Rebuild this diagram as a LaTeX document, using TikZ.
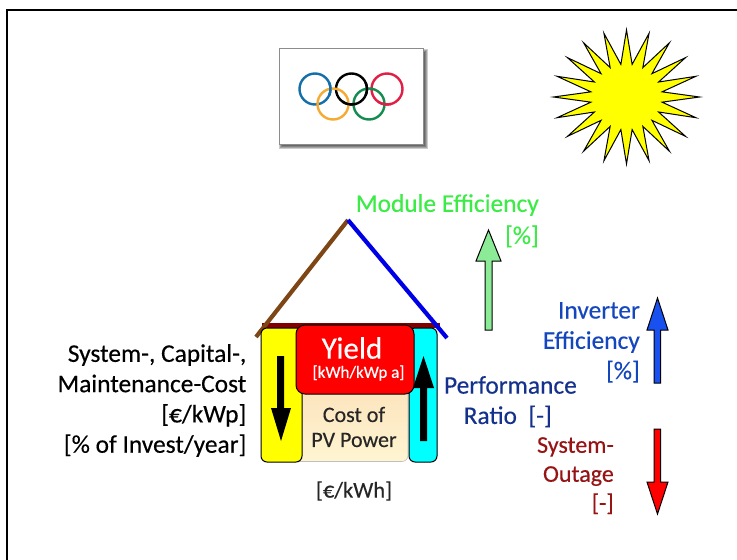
\documentclass[tikz,border=0pt]{standalone}
\usepackage{fontspec}
\setmainfont[FakeBold=0.35]{Carlito}
\definecolor{ringblue}{RGB}{20,110,170}
\definecolor{ringred}{RGB}{225,30,70}
\definecolor{ringgold}{RGB}{245,170,50}
\definecolor{ringgreen}{RGB}{20,140,80}
\definecolor{modgreen}{RGB}{60,235,70}
\definecolor{modfill}{RGB}{140,235,150}
\definecolor{invblue}{RGB}{20,70,190}
\definecolor{arrblue}{RGB}{25,80,240}
\definecolor{perfblue}{RGB}{20,50,140}
\definecolor{outred}{RGB}{150,20,20}
\definecolor{roofbrown}{RGB}{125,70,20}
\definecolor{roofblue}{RGB}{0,0,230}
\definecolor{eaves}{RGB}{130,0,0}
\definecolor{costtop}{RGB}{250,220,180}
\definecolor{costbot}{RGB}{255,245,210}
\definecolor{pureyellow}{RGB}{255,255,0}
\definecolor{purecyan}{RGB}{0,255,255}
\definecolor{purered}{RGB}{255,0,0}
\tikzset{
 lbl/.style={align=right,anchor=north east,inner sep=0pt,font=\fontsize{25.4}{30.3}\selectfont},
 ring/.style={line width=2.4pt,draw,fill=none},
 bigarrow/.style={draw=black,line width=1pt,line join=miter},
 colbox/.style={draw=black,line width=1pt,rounded corners=6pt},
 roofline/.style={line width=4.2pt},
}
\begin{document}
\begin{tikzpicture}[x=1pt,y=-1pt]
\useasboundingbox (0,0) rectangle (737,560);
\coordinate (fa) at (7,560);
\coordinate (fb) at (7,10);
\coordinate (fc) at (737,10);
\draw[line width=2pt] (fa) -- (fb) -- (fc);
% flag
\foreach \d in {3,2,1,0}
  \fill[black,opacity=.2] (282-\d,52-\d) rectangle (425+\d,146+\d);
\node[draw=black!45,fill=white,line width=.8pt,minimum width=144pt,minimum height=96pt,inner sep=0pt] (flag) at (351,96) {};
\coordinate (R1) at (315,89);
\coordinate (R2) at (351.5,89);
\coordinate (R3) at (387,89);
\coordinate (R4) at (333,104);
\coordinate (R5) at (369,104);
\draw[ring,ringblue] (R1) circle (15.5);
\draw[ring,black] (R2) circle (15.5);
\draw[ring,ringred] (R3) circle (15.5);
\draw[ring,ringgold] (R4) circle (15.5);
\draw[ring,ringgreen] (R5) circle (15.5);
\draw[ring,ringblue] (R1) ++(-25:15.5) arc (-25:25:15.5);
\draw[ring,black] (R2) ++(-25:15.5) arc (-25:25:15.5);
\draw[ring,black] (R2) ++(75:15.5) arc (75:125:15.5);
\draw[ring,ringred] (R3) ++(75:15.5) arc (75:125:15.5);
% sun
\draw[black,fill=pureyellow,line width=1pt,miter limit=20,shift={(626.5,97)}]
  plot[samples at={0,9,...,351}] ({cos(\x)*(36+37*(mod(\x,18)==0))},{sin(\x)*(33+34*(mod(\x,18)==0))}) -- cycle;
% roof
\coordinate (apex) at (348,220);
\coordinate (eaveL) at (256,337);
\coordinate (eaveR) at (447,338);
\coordinate (eaveA) at (262,325.5);
\coordinate (eaveB) at (440,325.5);
\draw[roofline,eaves] (eaveA) -- (eaveB);
\draw[roofline,roofbrown] (eaveL) -- (apex);
\draw[roofline,roofblue] (apex) -- (eaveR);
% cost
\node[draw=black!25,line width=.6pt,rounded corners=6pt,top color=costtop,bottom color=costbot,minimum width=118pt,minimum height=105pt,inner sep=0pt] (cost) at (349,409) {};
\node[align=center,inner sep=0pt,font=\fontsize{22}{25}\selectfont,text=black!85] (costtxt) at (354,427) {Cost of\\PV Power};
% side boxes
\node[colbox,fill=pureyellow,minimum width=41pt,minimum height=134pt,inner sep=0pt] (ybox) at (281.5,395) {};
\node[colbox,fill=purecyan,minimum width=28pt,minimum height=134pt,inner sep=0pt] (cbox) at (423,395) {};
% yield
\node[draw=black,line width=1pt,fill=purered,rounded corners=9pt,minimum width=118pt,minimum height=69pt,inner sep=0pt] (yield) at (355,359.5) {};
\node[text=white,inner sep=0pt,font=\fontsize{31}{31}\selectfont] (yt) at (352,348) {Yield};
\node[text=white,inner sep=0pt,font=\fontsize{17}{17}\selectfont] (yu) at (358.5,373) {[kWh/kWp a]};
% block arrows in boxes
\fill[black] (277,356) -- (284,356) -- (284,408) -- (291,408) -- (281,441) -- (271,408) -- (277,408) -- cycle;
\fill[black] (420,441) -- (427,441) -- (427,388) -- (434,388) -- (423.5,356) -- (413,388) -- (420,388) -- cycle;
% labels
\node[lbl] (l1) at (246.5,344) {System-, Capital-,\\Maintenance-Cost\\[0pt][€/kWp]\\[0pt][\% of Invest/year]};
\node[inner sep=0pt,font=\fontsize{22.5}{24}\selectfont,text=black!85] (kwh) at (354,491) {[€/kWh]};
\node[lbl,text=modgreen,font=\fontsize{25.4}{32}\selectfont] (l2) at (539,194) {Module Efficiency\\[0pt][\%]};
\node[lbl,text=invblue] (l3) at (640,302) {Inverter\\Efficiency\\[0pt][\%]};
\node[lbl,text=perfblue] (l4) at (577,376) {Performance\\Ratio\ \ [-]\hspace*{25pt}};
\node[lbl,text=outred,font=\fontsize{24}{29}\selectfont] (l5) at (614,437) {System-\\Outage\\[0pt][-]};
% arrows
\draw[bigarrow,fill=modfill] (485,330) -- (485,261) -- (476,261) -- (488.5,230) -- (501,261) -- (492,261) -- (492,330) -- cycle;
\draw[bigarrow,fill=arrblue] (654,383) -- (654,330) -- (647,330) -- (657.5,298) -- (668,330) -- (660.5,330) -- (660.5,383) -- cycle;
\draw[bigarrow,fill=purered] (654,429) -- (660.5,429) -- (660.5,482) -- (668,482) -- (657.5,514) -- (647,482) -- (654,482) -- cycle;
\end{tikzpicture}
\end{document}
